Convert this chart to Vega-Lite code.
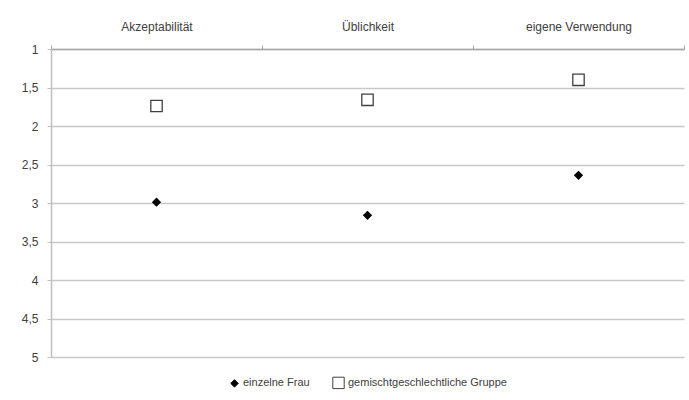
{
  "$schema": "https://vega.github.io/schema/vega-lite/v6.json",
  "autosize": "none",
  "width": 633,
  "height": 308,
  "padding": {"left": 51, "top": 49, "right": 5, "bottom": 43},
  "background": "white",
  "config": {
    "view": {"stroke": null},
    "font": "Liberation Sans",
    "legend": {
      "orient": "bottom",
      "direction": "horizontal",
      "title": null,
      "labelFontSize": 11,
      "labelColor": "#404040",
      "labelOffset": 3,
      "labelLimit": 400,
      "columnPadding": 20,
      "symbolStrokeWidth": 1,
      "offset": 19,
      "layout": {"bottom": {"anchor": "middle"}}
    }
  },
  "data": {
    "values": [
      {"kategorie": "Akzeptabilität", "gruppe": "einzelne Frau", "wert": 2.99},
      {"kategorie": "Akzeptabilität", "gruppe": "gemischtgeschlechtliche Gruppe", "wert": 1.74},
      {"kategorie": "Üblichkeit", "gruppe": "einzelne Frau", "wert": 3.16},
      {"kategorie": "Üblichkeit", "gruppe": "gemischtgeschlechtliche Gruppe", "wert": 1.66},
      {"kategorie": "eigene Verwendung", "gruppe": "einzelne Frau", "wert": 2.64},
      {"kategorie": "eigene Verwendung", "gruppe": "gemischtgeschlechtliche Gruppe", "wert": 1.40}
    ]
  },
  "mark": {"type": "point", "filled": false, "strokeWidth": 1.3, "opacity": 1},
  "encoding": {
    "x": {
      "field": "kategorie",
      "type": "nominal",
      "sort": ["Akzeptabilität", "Üblichkeit", "eigene Verwendung"],
      "scale": {"paddingInner": 0, "paddingOuter": 0},
      "axis": {
        "orient": "top",
        "title": null,
        "labelAngle": 0,
        "labelFontSize": 12,
        "labelColor": "#404040",
        "labelPadding": 12,
        "tickBand": "extent",
        "tickSize": 4,
        "tickColor": "#a6a6a6",
        "domainColor": "#a6a6a6",
        "domainWidth": 1.5,
        "grid": false
      }
    },
    "y": {
      "field": "wert",
      "type": "quantitative",
      "scale": {"domain": [1, 5], "reverse": true, "nice": false, "zero": false},
      "axis": {
        "title": null,
        "values": [1, 1.5, 2, 2.5, 3, 3.5, 4, 4.5, 5],
        "labelExpr": "replace(format(datum.value, ''), '.', ',')",
        "labelFontSize": 12,
        "labelColor": "#404040",
        "labelPadding": 9,
        "tickSize": 4,
        "tickColor": "#bfbfbf",
        "domainColor": "#bfbfbf",
        "domainWidth": 1.5,
        "grid": true,
        "gridColor": "#c8c8c8",
        "gridWidth": 1.5
      }
    },
    "shape": {
      "field": "gruppe",
      "type": "nominal",
      "scale": {"domain": ["einzelne Frau", "gemischtgeschlechtliche Gruppe"], "range": ["diamond", "square"]}
    },
    "fill": {
      "field": "gruppe",
      "type": "nominal",
      "scale": {"domain": ["einzelne Frau", "gemischtgeschlechtliche Gruppe"], "range": ["#000000", "#ffffff"]}
    },
    "stroke": {
      "field": "gruppe",
      "type": "nominal",
      "scale": {"domain": ["einzelne Frau", "gemischtgeschlechtliche Gruppe"], "range": ["#000000", "#404040"]}
    },
    "size": {
      "field": "gruppe",
      "type": "nominal",
      "scale": {"domain": ["einzelne Frau", "gemischtgeschlechtliche Gruppe"], "range": [55, 130]}
    }
  }
}
